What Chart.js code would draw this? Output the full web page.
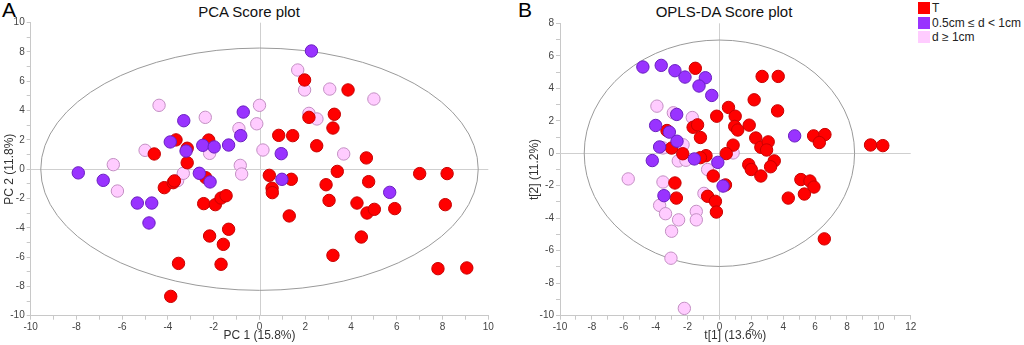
<!DOCTYPE html>
<html>
<head>
<meta charset="utf-8">
<script src="https://cdn.jsdelivr.net/npm/chart.js@4.4.1/dist/chart.umd.min.js"></script>
<style>
  html, body { margin:0; padding:0; background:#fff; }
  body { width:1024px; height:345px; position:relative; overflow:hidden; font-family:"Liberation Sans", Arial, sans-serif; }
  .wrap { position:absolute; top:0; height:345px; }
  .lbl { position:absolute; color:#000; white-space:nowrap; }
  .ttl { position:absolute; font-size:15px; color:#111; transform:translateX(-50%); white-space:nowrap; }
  .leg { position:absolute; left:918px; font-size:12px; color:#222; display:flex; align-items:center; white-space:nowrap; }
  .leg span.sw { width:12px; height:12px; display:inline-block; margin-right:2px; }
</style>
</head>
<body>
<div class="lbl" style="left:2px;top:-2px;font-size:21px;">A</div>
<div class="lbl" style="left:518px;top:-2px;font-size:21px;">B</div>
<div class="ttl" style="left:249px;top:3px;">PCA Score plot</div>
<div class="ttl" style="left:724px;top:3px;">OPLS-DA Score plot</div>
<div class="leg" style="top:1px;"><span class="sw" style="background:#ff0000"></span>T</div>
<div class="leg" style="top:16px;"><span class="sw" style="background:#9933ff"></span>0.5cm ≤ d &lt; 1cm</div>
<div class="leg" style="top:30px;"><span class="sw" style="background:#ffccff"></span>d ≥ 1cm</div>

<div class="wrap" style="left:0;width:500px;"><canvas id="cA" width="500" height="345"></canvas></div>
<div class="wrap" style="left:515px;width:405px;"><canvas id="cB" width="405" height="345"></canvas></div>

<script>
// ---------- Data: PCA (chart A) ----------
const seriesNames = ["T", "0.5cm ≤ d < 1cm", "d ≥ 1cm"];

const pcaT = [[-3.65,2.0],[-3.16,1.43],[-4.6,1.04],[-2.22,1.99],[-3.16,0.44],[1.97,6.09],[3.87,5.41],[2.16,3.54],[3.27,3.75],[3.21,2.81],[0.84,2.31],[1.45,2.29],[2.5,1.6],[4.67,0.77],[3.4,-0.15],[7.0,-0.3],[8.2,-0.3],[0.43,-0.42],[1.39,-0.69],[0.55,-1.3],[0.56,-1.6],[2.91,-1.06],[4.77,-0.85],[3.04,-2.13],[4.26,-2.31],[4.7,-2.99],[5.02,-2.74],[5.91,-2.69],[8.12,-2.42],[1.3,-3.19],[4.45,-4.63],[3.21,-5.88],[7.8,-6.79],[9.06,-6.74],[-4.16,-1.26],[-3.77,-0.92],[-3.72,-0.8],[-2.35,-0.58],[-2.44,-2.35],[-1.93,-2.42],[-1.68,-1.97],[-1.46,-1.81],[-1.35,-4.1],[-2.18,-4.56],[-1.58,-5.13],[-3.54,-6.43],[-1.68,-6.49],[-3.88,-8.68]];
const pcaMid = [[-3.31,3.31],[-0.71,3.9],[-0.82,2.29],[-3.9,1.86],[-3.21,1.24],[-2.48,1.63],[-1.98,1.52],[-1.35,1.65],[-7.92,-0.25],[2.27,8.07],[0.95,1.06],[0.98,-0.69],[5.69,-1.58],[-6.83,-0.76],[-5.34,-2.31],[-4.71,-2.31],[-4.83,-3.67],[-2.63,-0.28],[-2.16,-0.87]];
const pcaLarge = [[-4.39,4.36],[-2.37,3.54],[0.0,4.36],[-0.9,2.77],[-0.12,3.1],[-5.0,1.29],[-2.18,1.08],[-6.39,0.31],[-0.84,0.26],[0.15,1.31],[1.67,6.77],[1.97,5.41],[3.07,5.47],[5.0,4.79],[2.16,3.81],[2.51,3.43],[3.68,1.04],[-6.21,-1.49],[-3.58,-0.78],[-3.33,-0.28],[-0.78,-0.33]];

// ---------- Data: OPLS-DA (chart B) ----------
const oplsT = [[-1.51,5.23],[2.68,4.73],[3.69,4.73],[2.18,3.29],[0.57,2.82],[3.65,2.61],[-0.17,2.28],[0.99,2.28],[-3.29,1.4],[-1.65,1.6],[-1.37,1.75],[-1.19,0.97],[0.96,1.65],[1.15,1.43],[1.87,1.73],[2.28,0.94],[0.86,0.5],[2.6,0.37],[3.06,0.7],[2.96,0.2],[-3.0,0.32],[-2.3,-0.03],[-0.84,-0.15],[-1.19,-0.27],[0.43,-0.02],[1.84,-0.7],[2.0,-1.0],[2.6,-1.4],[-0.39,-1.4],[3.44,-0.47],[3.21,-0.83],[5.91,1.07],[6.62,1.15],[6.27,0.66],[9.48,0.51],[10.25,0.47],[-2.79,-1.83],[-2.7,-2.76],[-0.74,-2.65],[-0.25,-2.96],[-0.19,-3.62],[0.38,-1.95],[5.11,-1.62],[5.68,-1.71],[5.93,-2.08],[5.33,-2.51],[4.32,-2.76],[6.58,-5.27]];
const oplsMid = [[-4.8,5.31],[-3.65,5.41],[-2.79,5.08],[-2.16,4.69],[-0.88,4.65],[-1.28,4.14],[-0.48,3.56],[-2.68,2.39],[-4.0,1.71],[-3.14,1.3],[-2.66,0.74],[-3.75,0.39],[-4.21,-0.45],[-1.57,-0.35],[-0.1,-0.56],[4.72,1.07],[-3.48,-2.61],[0.23,-2.02]];
const oplsLarge = [[-3.92,2.9],[-2.89,2.49],[-1.7,2.2],[-2.28,0.52],[-3.54,0.33],[-2.58,-0.47],[-2.1,-0.43],[0.86,0.02],[-0.74,-1.0],[-5.72,-1.58],[-3.54,-1.77],[-3.75,-3.21],[-3.38,-3.72],[-2.56,-4.1],[-3.0,-4.8],[-1.45,-3.58],[-1.45,-4.1],[-0.97,-2.47],[-3.04,-6.46],[-2.2,-9.55]];

// Hotelling ellipse semi-axes (data units)
const pcaEllipse = [9.56, 8.27];
const oplsEllipse = [8.48, 6.97];

// Axis ranges and titles
const pcaXRange = [-10, 10], pcaYRange = [-10, 10];
const oplsXRange = [-10, 12], oplsYRange = [-10, 8];
const axisTitles = ["PC 1 (15.8%)", "PC 2 (11.8%)", "t[1] (13.6%)", "t[2] (11.2%)"];

// ---------- Rendering ----------
const toPts = arr => arr.map(p => ({x: p[0], y: p[1]}));
const styles = [
  {bg:'#ff0000', bd:'#c80000'},
  {bg:'#9933ff', bd:'#6a1fc0'},
  {bg:'#ffccff', bd:'#c38fc3'}
];

const ellipsePlugin = {
  id: 'ellipseZero',
  beforeDatasetsDraw(chart, args, opts) {
    const {ctx, chartArea: a, scales: {x, y}} = chart;
    ctx.save();
    ctx.strokeStyle = '#cfcfcf';
    ctx.lineWidth = 1;
    const x0 = Math.round(x.getPixelForValue(0)) + 0.5;
    const y0 = Math.round(y.getPixelForValue(0)) + 0.5;
    ctx.beginPath();
    ctx.moveTo(x0, a.top); ctx.lineTo(x0, a.bottom);
    ctx.moveTo(a.left, y0); ctx.lineTo(a.right, y0);
    ctx.stroke();
    const e = opts.axes;
    const cx = x.getPixelForValue(0), cy = y.getPixelForValue(0);
    const rx = x.getPixelForValue(e[0]) - cx;
    const ry = cy - y.getPixelForValue(e[1]);
    ctx.strokeStyle = '#9a9a9a';
    ctx.beginPath();
    ctx.ellipse(cx, cy, rx, ry, 0, 0, Math.PI * 2);
    ctx.stroke();
    ctx.restore();
  }
};

function makeChart(id, sets, xr, yr, ell, xt, yt, yw, pad) {
  const ds = [
    {label: seriesNames[1], data: toPts(sets[1]), backgroundColor: styles[1].bg, borderColor: styles[1].bd},
    {label: seriesNames[0], data: toPts(sets[0]), backgroundColor: styles[0].bg, borderColor: styles[0].bd},
    {label: seriesNames[2], data: toPts(sets[2]), backgroundColor: styles[2].bg, borderColor: styles[2].bd}
  ];
  ds.forEach(d => { d.pointRadius = 6.2; d.borderWidth = 1; d.pointHoverRadius = 6.2; });
  const tickFont = {family: '"Liberation Sans", Arial, sans-serif', size: 10};
  const titleFont = {family: '"Liberation Sans", Arial, sans-serif', size: 12};
  const lab = v => (Math.abs(v % 2) < 1e-9 ? String(v) : '');
  return new Chart(document.getElementById(id), {
    type: 'scatter',
    data: {datasets: ds},
    plugins: [ellipsePlugin],
    options: {
      responsive: false,
      animation: false,
      events: [],
      layout: {padding: pad},
      plugins: {legend: {display: false}, tooltip: {enabled: false}, ellipseZero: {axes: ell}},
      scales: {
        x: {
          type: 'linear', min: xr[0], max: xr[1],
          ticks: {stepSize: 1, autoSkip: false, maxRotation: 0, color: '#444', font: tickFont, padding: 2, callback: lab},
          grid: {drawOnChartArea: false, drawTicks: true, tickLength: 4, color: '#c8c8c8'},
          border: {color: '#c8c8c8'},
          title: {display: true, text: xt, color: '#333', font: titleFont, padding: {top: 0, bottom: 2}},
          afterFit(s) { s.height = 29.3; }
        },
        y: {
          type: 'linear', min: yr[0], max: yr[1],
          ticks: {stepSize: 1, autoSkip: false, color: '#444', font: tickFont, padding: 2, callback: lab},
          grid: {drawOnChartArea: false, drawTicks: true, tickLength: 4, color: '#c8c8c8'},
          border: {color: '#c8c8c8'},
          title: {display: true, text: yt, color: '#333', font: titleFont, padding: {top: 2, bottom: 0}},
          afterFit(s) { s.width = yw; }
        }
      }
    }
  });
}

makeChart('cA', [pcaT, pcaMid, pcaLarge], pcaXRange, pcaYRange, pcaEllipse,
  axisTitles[0], axisTitles[1], 30.7, {top: 22.7, right: 11.7, left: 0, bottom: 0});
makeChart('cB', [oplsT, oplsMid, oplsLarge], oplsXRange, oplsYRange, oplsEllipse,
  axisTitles[2], axisTitles[3], 35, {top: 23.3, right: 9.3, left: 10, bottom: 0});
</script>
</body>
</html>
